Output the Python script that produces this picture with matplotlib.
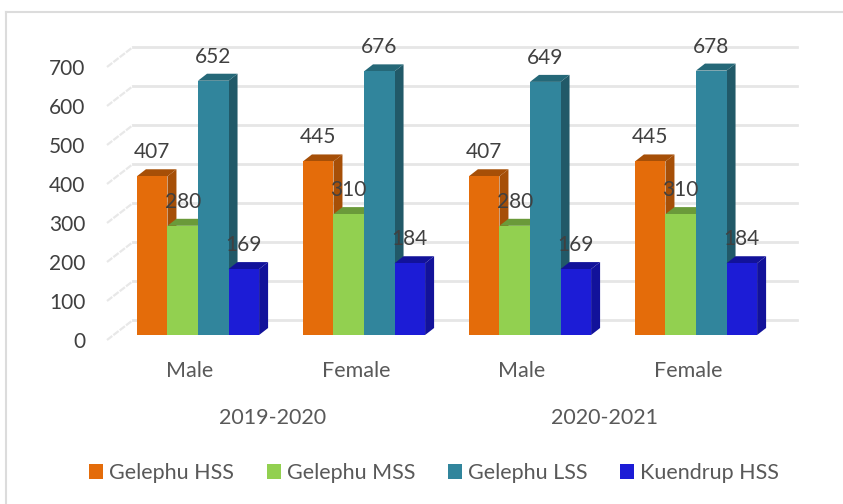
"""
Enrolment by school, sex and academic year, drawn as a pseudo-3D column chart.
"""

import matplotlib
matplotlib.use("Agg")
import matplotlib.pyplot as plt
from matplotlib.lines import Line2D
from matplotlib.patches import Polygon, Rectangle
from matplotlib.transforms import Affine2D

# ===========================================================
# DATA
# ===========================================================
sex_labels = ["Male", "Female", "Male", "Female"]
year_labels = ["2019-2020", "2020-2021"]
schools = ["Gelephu HSS", "Gelephu MSS", "Gelephu LSS", "Kuendrup HSS"]

gelephu_hss = [407, 445, 407, 445]
gelephu_mss = [280, 310, 280, 310]
gelephu_lss = [652, 676, 649, 678]
kuendrup_hss = [169, 184, 169, 184]

y_ticks = [0, 100, 200, 300, 400, 500, 600, 700]

# front, side, top face colours for each school
colors = [
    ("#e46c0a", "#a64f07", "#a64f07"),
    ("#92d050", "#6a9a3a", "#6a9a3a"),
    ("#31859c", "#215968", "#256878"),
    ("#1c1cd6", "#12129a", "#12129a"),
]

# ===========================================================
# LAYOUT (pixels, figure is 843x504 at dpi 100)
# ===========================================================
W, H = 843, 504
LEFT, RIGHT = 107, 771      # front edge of the floor
Y0, Y700 = 340, 67          # front edge, value 0 and 700
WALL_DX, WALL_DY = 26, 20   # front edge to back wall
BAR_DX, BAR_DY = 8, 5       # front edge to front face of bars
DEPTH_DX, DEPTH_DY = 9, 7   # depth of one bar
BAR_W = 0.184               # in category units

plt.rcParams["font.family"] = ["Lato", "DejaVu Sans"]
TEXT = "#595959"

fig = plt.figure(figsize=(W / 100, H / 100), dpi=100, facecolor="white")
ax = fig.add_axes([LEFT / W, 1 - Y0 / H, (RIGHT - LEFT) / W, (Y0 - Y700) / H])
ax.set_xlim(-0.5, 3.5)
ax.set_ylim(0, 700)
ax.patch.set_visible(False)
for s in ax.spines.values():
    s.set_visible(False)

# pixel offset transforms, dpi 100 so display units are pixels
wall = ax.transData + Affine2D().translate(WALL_DX, WALL_DY)
front = ax.transData + Affine2D().translate(BAR_DX, BAR_DY)
px_x = 4 / (RIGHT - LEFT)
px_y = 700 / (Y0 - Y700)

# ===========================================================
# WALLS
# ===========================================================
for v in y_ticks:
    ax.plot([-0.5, 3.5], [v, v], transform=wall, color="#e6e6e6", lw=2,
            clip_on=False, zorder=1)
    ax.plot([-0.5, -0.5 + WALL_DX * px_x], [v, v + WALL_DY * px_y],
            color="#e8e8e8", lw=1.6, ls=(0, (3, 0.6)), clip_on=False, zorder=1)

# ===========================================================
# BARS
# ===========================================================
series = [gelephu_hss, gelephu_mss, gelephu_lss, kuendrup_hss]
dx = DEPTH_DX * px_x
dy = DEPTH_DY * px_y

# later bars cover the side face of the earlier one, as in the reference
for i, vals in enumerate(series):
    col_f, col_s, col_t = colors[i]
    for j, v in enumerate(vals):
        x0 = j + (i - 2) * BAR_W
        x1 = x0 + BAR_W
        z = 3 + i
        ax.bar(x0, v, width=BAR_W, align="edge", color=col_f, transform=front,
               clip_on=False, zorder=z + 0.2)
        ax.add_patch(Polygon([(x1, 0), (x1 + dx, dy), (x1 + dx, v + dy), (x1, v)],
                             closed=True, fc=col_s, ec="none", transform=front,
                             clip_on=False, zorder=z))
        ax.add_patch(Polygon([(x0, v), (x0 + dx, v + dy), (x1 + dx, v + dy), (x1, v)],
                             closed=True, fc=col_t, ec="none", transform=front,
                             clip_on=False, zorder=z))

# value labels go on top of everything
for i, vals in enumerate(series):
    for j, v in enumerate(vals):
        xc = j + (i - 2) * BAR_W + BAR_W / 2
        ax.annotate(str(v), (xc, v), xycoords=front, xytext=(0, 24),
                    textcoords="offset pixels", ha="center", va="center",
                    fontsize=15, color="#404040", zorder=20,
                    annotation_clip=False)

# ===========================================================
# AXES TEXT
# ===========================================================
ax.set_xticks([])
ax.set_yticks(y_ticks)
ax.tick_params(axis="y", length=0, pad=15.5, labelsize=15, labelcolor="#404040")

for j, lab in enumerate(sex_labels):
    ax.annotate(lab, (j, 0), xycoords=ax.transData, xytext=(0, -31),
                textcoords="offset pixels", ha="center", va="center",
                fontsize=15.5, color=TEXT, annotation_clip=False)
for j, lab in enumerate(year_labels):
    ax.annotate(lab, (2 * j + 0.5, 0), xycoords=ax.transData, xytext=(0, -78),
                textcoords="offset pixels", ha="center", va="center",
                fontsize=15.5, color=TEXT, annotation_clip=False)

# ===========================================================
# LEGEND AND FRAME
# ===========================================================
handles = [Rectangle((0, 0), 1, 1, fc=c[0], ec="none") for c in colors]
fig.legend(handles, schools, ncol=4, loc="center", bbox_to_anchor=(434 / W, 1 - 473 / H),
           frameon=False, fontsize=15.5, labelcolor=TEXT, handlelength=0.65,
           handleheight=0.65, handletextpad=0.28, columnspacing=1.53)

# frame: only the top and left edges show in the reference
fig.add_artist(Line2D([6 / W, 6 / W], [1 - 12 / H, 0], color="#dcdcdc", lw=1.5))
fig.add_artist(Line2D([6 / W, 1], [1 - 12 / H, 1 - 12 / H], color="#dcdcdc", lw=1.5))

fig.savefig("out.png", dpi=100)
